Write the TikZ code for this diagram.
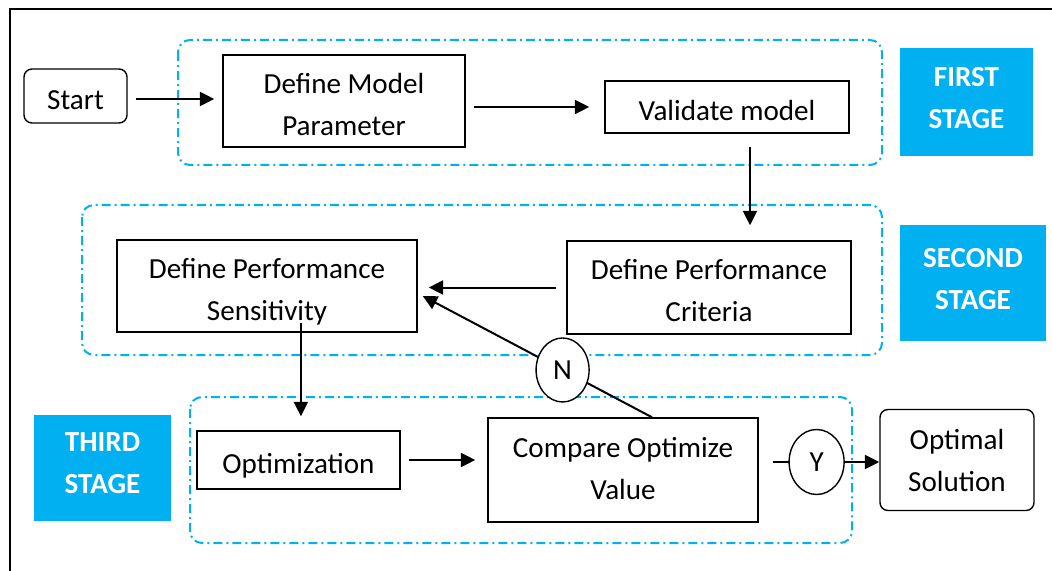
\documentclass[tikz,border=0pt]{standalone}
\usepackage{fontspec}
\setmainfont{Carlito}
\usepackage{xcolor}
\usetikzlibrary{shapes.geometric}
\usetikzlibrary{arrows.meta}
\usetikzlibrary{positioning}

\definecolor{stagecyan}{HTML}{00B0F0}
\newcommand{\flowfont}{\fontsize{20.7}{29.9}\selectfont}

\begin{document}
\begin{tikzpicture}[x=0.025cm, y=-0.025cm]
\tikzset{
box/.style={draw, line width=0.35mm, inner sep=0pt, align=center, font=\flowfont,
    text height=24pt, text depth=5pt},
twoline/.style={text height=53.8pt, text depth=5pt},
roundbox/.style={box, rounded corners=2mm},
stagebox/.style={fill=stagecyan, text=white, inner sep=0pt, align=center, font=\flowfont\bfseries,
    execute at end node={\rule[-6.4pt]{0pt}{0pt}}},
group/.style={draw=stagecyan, line width=0.5mm, rounded corners=3mm,
    dash pattern=on 2.25mm off 1mm on 0.5mm off 1mm},
flow/.style={line width=0.5mm, -{Triangle[length=3.6mm,width=3.5mm]}},
decision/.style={ellipse, draw, line width=0.35mm, fill=white, inner sep=0pt,
    font=\flowfont},
}
\useasboundingbox (0,0) rectangle (1052,571);
\draw[line width=0.5mm] (10,575) -- (10,9) -- (1056,9);

% stage frames
\draw[group] (178,40) rectangle (882,165);
\draw[group] (82,205) rectangle (882,355);
\draw[group] (190,397) rectangle (852,543);

% stage labels
\node[stagebox, minimum width=33.25mm, minimum height=27mm] (first) at (966.5,102) {FIRST\\STAGE};
\node[stagebox, minimum width=36.5mm, minimum height=29mm] (second) at (973,283) {SECOND\\STAGE};
\node[stagebox, minimum width=34.25mm, minimum height=26.5mm] (third) at (102.5,468) {THIRD\\STAGE};

% steps
\node[roundbox, minimum width=25.75mm, minimum height=13.5mm] (start) at (75.5,96) {Start};
\node[box, twoline, minimum width=60.5mm, minimum height=23mm] (model) at (344,101) {Define Model\\Parameter};
\node[box, minimum width=61mm, minimum height=13mm] (valid) at (727,107) {Validate model};
\node[box, twoline, minimum width=71mm, minimum height=23.25mm] (criteria) at (709,287.5) {Define Performance\\Criteria};
\node[box, twoline, minimum width=75mm, minimum height=23mm] (sens) at (267,286) {Define Performance\\Sensitivity};
\node[box, minimum width=50.75mm, minimum height=14.5mm] (optim) at (298.5,460) {Optimization};
\node[box, twoline, text height=47pt, minimum width=67.5mm, minimum height=26mm] (compare) at (623,470) {Compare Optimize\\Value};
\node[roundbox, twoline, text height=50pt, minimum width=38.5mm, minimum height=25.25mm] (optimal) at (957,460) {Optimal\\Solution};

% connectors
\draw[flow, shorten <=2mm, shorten >=2mm] (start.east |- 0,99) -- (model.west |- 0,99);
\draw[flow, shorten <=2mm, shorten >=3.75mm] (model.east |- valid.west) -- (valid.west);
\draw[flow, shorten <=3.25mm, shorten >=3.75mm] ([xshift=5.75mm]valid.south) -- ([xshift=5.75mm]valid.south |- criteria.north);
\draw[flow, shorten <=2.5mm, shorten >=2.75mm] (criteria.west) -- (criteria.west -| sens.east);
\draw[flow, shorten <=-2.5mm, shorten >=3.5mm] ([xshift=0.6mm]optim.north |- sens.south) -- ([xshift=0.6mm]optim.north);
\draw[flow, shorten <=2mm, shorten >=3mm] (optim.east) -- (optim.east -| compare.west);
\draw[flow] ([xshift=7.25mm]compare.north) -- node[decision, pos=0.39, minimum width=13.25mm, minimum height=16mm] (no) {N} ([xshift=1.25mm,yshift=-2.5mm]sens.east);
\draw[flow, shorten <=3.5mm] (compare.east |- 0,462) -- node[decision, pos=0.48, minimum width=13.75mm, minimum height=16.25mm] (yes) {Y} (optimal.west |- 0,462);
\end{tikzpicture}
\end{document}
